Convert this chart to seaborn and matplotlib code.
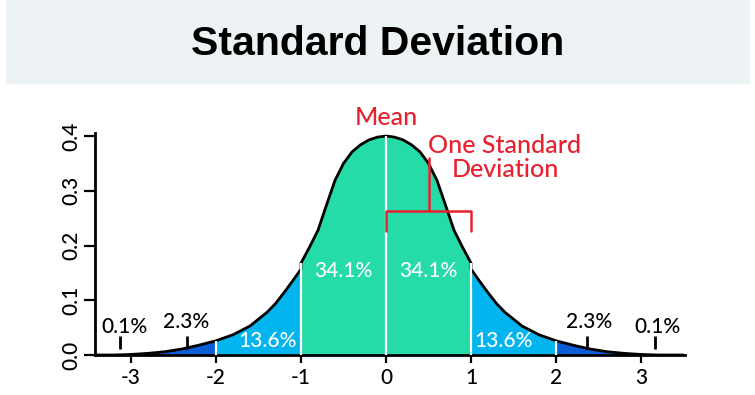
import matplotlib
matplotlib.use("Agg")
import matplotlib.pyplot as plt
import pandas as pd
import seaborn as sns
from matplotlib.patches import Rectangle

# height of the drawn curve
# (x = -1 and 1 appear twice: the outline steps there)
curve_x = [-3.4, -3.2, -3.0, -2.8, -2.6, -2.4, -2.2, -2.0, -1.8, -1.6,
           -1.4, -1.3, -1.2, -1.1, -1.0, -1.0, -0.9, -0.8, -0.7, -0.6,
           -0.5, -0.4, -0.3, -0.2, -0.1, 0.0, 0.1, 0.2, 0.3, 0.4,
           0.5, 0.6, 0.7, 0.8, 0.9, 1.0, 1.0, 1.1, 1.2, 1.3,
           1.4, 1.6, 1.8, 2.0, 2.2, 2.4, 2.6, 2.8, 3.0, 3.2, 3.5]
curve_y = [0.000, 0.000, 0.001, 0.003, 0.006, 0.011, 0.018, 0.026, 0.037, 0.053,
           0.078, 0.094, 0.114, 0.135, 0.157, 0.168, 0.197, 0.228, 0.274, 0.319,
           0.350, 0.371, 0.384, 0.393, 0.398, 0.400, 0.398, 0.393, 0.384, 0.371,
           0.350, 0.319, 0.274, 0.228, 0.197, 0.168, 0.157, 0.135, 0.114, 0.094,
           0.078, 0.053, 0.037, 0.026, 0.018, 0.011, 0.006, 0.003, 0.001, 0.000, 0.000]

# shaded bands between these edges
band_edges = [-3.4, -2, -1, 1, 2, 3.5]
band_colors = ["#0b5cd5", "#03b5ef", "#25dba8", "#03b5ef", "#0b5cd5"]
divider_x = [-2, -1, 0, 1, 2]

x_ticks = [-3, -2, -1, 0, 1, 2, 3]
x_labels = ["-3", "-2", "-1", "0", "1", "2", "3"]
y_ticks = [0.0, 0.1, 0.2, 0.3, 0.4]
y_labels = ["0.0", "0.1", "0.2", "0.3", "0.4"]

pct_inner = ["34.1%", "34.1%"]
pct_middle = ["13.6%", "13.6%"]
pct_outer = ["2.3%", "2.3%"]
pct_tail = ["0.1%", "0.1%"]

RED = "#e8212f"

df = pd.DataFrame({"x": curve_x, "y": curve_y})


def band_points(lo, hi):
    idx = [i for i, v in enumerate(curve_x) if lo <= v <= hi]
    # at a doubled edge keep only the point that belongs to this band
    if len(idx) > 1 and curve_x[idx[0]] == curve_x[idx[1]]:
        idx = idx[1:]
    if len(idx) > 1 and curve_x[idx[-1]] == curve_x[idx[-2]]:
        idx = idx[:-1]
    return [curve_x[i] for i in idx], [curve_y[i] for i in idx]


sns.set_style("ticks")
plt.rcParams["font.family"] = ["Lato", "DejaVu Sans"]
plt.rcParams["font.weight"] = "medium"
plt.rcParams["text.color"] = "black"

fig = plt.figure(figsize=(7.55, 3.95), dpi=100)

# title banner
fig.patches.append(Rectangle((6 / 755, 1 - 83 / 395), 743 / 755, 83 / 395,
                             transform=fig.transFigure, color="#edf2f5", zorder=0))
fig.text(0.5, 1 - 55 / 395, "Standard Deviation", ha="center", va="baseline",
         fontsize=29.5, fontweight="bold", color="black",
         family=["Liberation Sans", "DejaVu Sans"])

ax = fig.add_axes([95 / 755, 40 / 395, 590 / 755, 221.7 / 395])

for i, c in enumerate(band_colors):
    bx, by = band_points(band_edges[i], band_edges[i + 1])
    ax.fill_between(bx, 0, by, color=c, lw=0, zorder=1)

sns.lineplot(data=df, x="x", y="y", estimator=None, sort=False,
             color="black", lw=2, ax=ax, zorder=3)

for d in divider_x:
    top = max(y for x, y in zip(curve_x, curve_y) if x == d)
    ax.plot([d, d], [0, top], color="white", lw=1.6, zorder=4, solid_capstyle="butt")

# small markers in the tails
for m in [-3.13, -2.34, 2.36, 3.16]:
    ax.plot([m, m], [0.011, 0.035], color="black", lw=2, zorder=4, solid_capstyle="butt")

txt = dict(ha="center", va="baseline", fontsize=15)
ax.text(-0.50, 0.143, pct_inner[0], color="white", zorder=5, **txt)
ax.text(0.50, 0.143, pct_inner[1], color="white", zorder=5, **txt)
ax.text(-1.39, 0.0152, pct_middle[0], color="white", zorder=5, **txt)
ax.text(1.38, 0.0152, pct_middle[1], color="white", zorder=5, **txt)
ax.text(-2.35, 0.0487, pct_outer[0], color="black", zorder=5, **txt)
ax.text(2.39, 0.0487, pct_outer[1], color="black", zorder=5, **txt)
ax.text(-3.08, 0.0396, pct_tail[0], color="black", zorder=5, **txt)
ax.text(3.19, 0.0396, pct_tail[1], color="black", zorder=5, **txt)

# mean / one standard deviation callout
ax.text(0.0, 0.420, "Mean", color=RED, ha="center", va="baseline", fontsize=18)
ax.text(1.40, 0.3684, "One Standard", color=RED, ha="center", va="baseline", fontsize=18)
ax.text(1.40, 0.3257, "Deviation", color=RED, ha="center", va="baseline", fontsize=18)
ax.plot([0, 0, 1, 1], [0.2265, 0.2636, 0.2636, 0.2265], color=RED, lw=1.8, zorder=6)
ax.plot([0.51, 0.51], [0.2636, 0.359], color=RED, lw=1.8, zorder=6)

ax.set_xlim(-3.424, 3.518)
ax.set_ylim(0, 0.405)
ax.set_xticks(x_ticks, labels=x_labels)
ax.set_yticks(y_ticks, labels=y_labels)
ax.set_xlabel("")
ax.set_ylabel("")
ax.tick_params(axis="x", length=6, width=1.6, pad=3.5, labelsize=15, colors="black")
ax.tick_params(axis="y", length=8, width=1.6, pad=2, labelsize=15, colors="black",
               labelrotation=90)
for lbl in ax.get_yticklabels():
    lbl.set_va("center")

sns.despine(ax=ax)
for s in ["left", "bottom"]:
    ax.spines[s].set_linewidth(2)
    ax.spines[s].set_color("black")
ax.set_facecolor("white")

fig.savefig("out.png", dpi=100)
